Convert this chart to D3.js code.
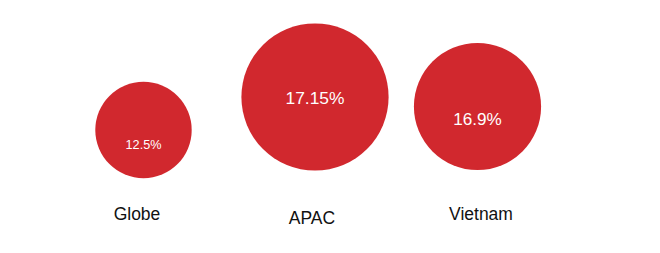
<!DOCTYPE html>
<html>
<head>
<meta charset="utf-8">
<script src="https://cdn.jsdelivr.net/npm/d3@7"></script>
<style>
  html, body { margin: 0; padding: 0; background: #fff; }
  svg { display: block; font-family: Arial, "Liberation Sans", sans-serif; }
</style>
</head>
<body>
<div id="chart"></div>
<script>
// chart data
const categories = ["Globe", "APAC", "Vietnam"];
const values = [12.5, 17.15, 16.9];
const valueLabels = ["12.5%", "17.15%", "16.9%"];

const width = 660, height = 253;

const svg = d3.select("#chart")
    .append("svg")
    .attr("width", width)
    .attr("height", height);

// bubble layout (hand placed in the original)
const x = d3.scaleOrdinal().domain(categories).range([143.5, 315, 477.5]);
const y = d3.scaleOrdinal().domain(categories).range([130, 97, 106.5]);
const labelX = d3.scaleOrdinal().domain(categories).range([137, 312, 481]);
const labelY = d3.scaleOrdinal().domain(categories).range([219.5, 223.5, 219.5]);
const valueDy = d3.scaleOrdinal().domain(categories).range([18.5, 7, 18]);

// radius follows the original's piecewise sizing
const r = d3.scaleLinear().domain([12.5, 16.9, 17.15]).range([48.2, 63.6, 73.6]);
// value text scales with the value itself
const fontSize = d3.scaleLinear().domain([0, 17.15]).range([0, 17.4]);

const data = categories.map((c, i) => ({ name: c, value: values[i], label: valueLabels[i] }));

const g = svg.selectAll("g.bubble")
    .data(data)
    .join("g")
    .attr("class", "bubble");

g.append("circle")
    .attr("cx", d => x(d.name))
    .attr("cy", d => y(d.name))
    .attr("r", d => r(d.value))
    .attr("fill", "#d1282e");

g.append("text")
    .attr("x", d => x(d.name))
    .attr("y", d => y(d.name) + valueDy(d.name))
    .attr("text-anchor", "middle")
    .attr("fill", "#fff")
    .style("font-size", d => fontSize(d.value) + "px")
    .text(d => d.label);

g.append("text")
    .attr("x", d => labelX(d.name))
    .attr("y", d => labelY(d.name))
    .attr("text-anchor", "middle")
    .attr("fill", "#111")
    .style("font-size", "17.5px")
    .text(d => d.name);
</script>
</body>
</html>
